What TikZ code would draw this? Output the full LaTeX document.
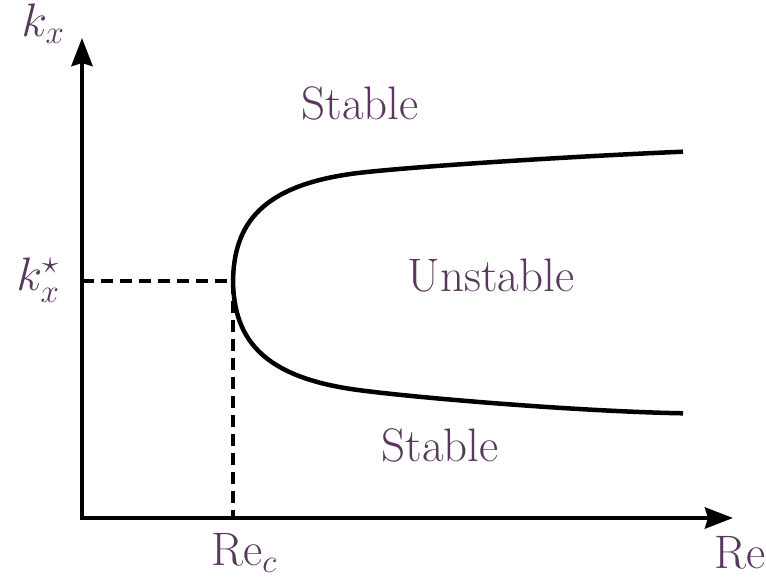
\RequirePackage{fix-cm}
\documentclass[tikz,border=0pt]{standalone}
\usetikzlibrary{arrows.meta}
\definecolor{lab}{RGB}{88,56,92}
\begin{document}
\begin{tikzpicture}[x=1pt,y=-1pt,
  tip/.tip={Stealth[length=28pt,width=21pt,inset=3pt]},
  axis/.style={line width=4.5pt,tip-tip},
  guide/.style={line width=3.8pt,dash pattern=on 12pt off 7pt},
  curve/.style={line width=4.5pt},
  lbl/.style={text=lab,font=\fontsize{47}{56}\selectfont,inner sep=0pt}]
\useasboundingbox (0,0) rectangle (766,580);
\coordinate (O) at (82,518);
\coordinate (Y) at (82,38);
\coordinate (X) at (733,518);
\coordinate (K) at (82,281);
\coordinate (C) at (233,281);
\coordinate (R) at (233,518);
\coordinate (U1) at (358,173);
\coordinate (U2) at (683,151.7);
\coordinate (L1) at (358,390);
\coordinate (L2) at (683,413.3);
\draw[axis] (Y) -- (O) -- (X);
\draw[guide] (K) -- (C) -- (R);
\draw[curve] (U2) .. controls (580,156) and (418,166) .. (U1)
  .. controls (260,185) and (234,225) .. (C)
  .. controls (234,337) and (260,377) .. (L1)
  .. controls (418,398) and (580,411.5) .. (L2);
\node[lbl] (kx) at (43,24) {$k_x$};
\node[lbl] (ks) at (38,280) {$k_x^\star$};
\node[lbl] (rec) at (244,553) {Re$_c$};
\node[lbl] (re) at (740,553) {Re};
\node[lbl] (s1) at (360,103) {Stable};
\node[lbl] (u) at (491,276) {Unstable};
\node[lbl] (s2) at (440,445) {Stable};
\end{tikzpicture}
\end{document}
